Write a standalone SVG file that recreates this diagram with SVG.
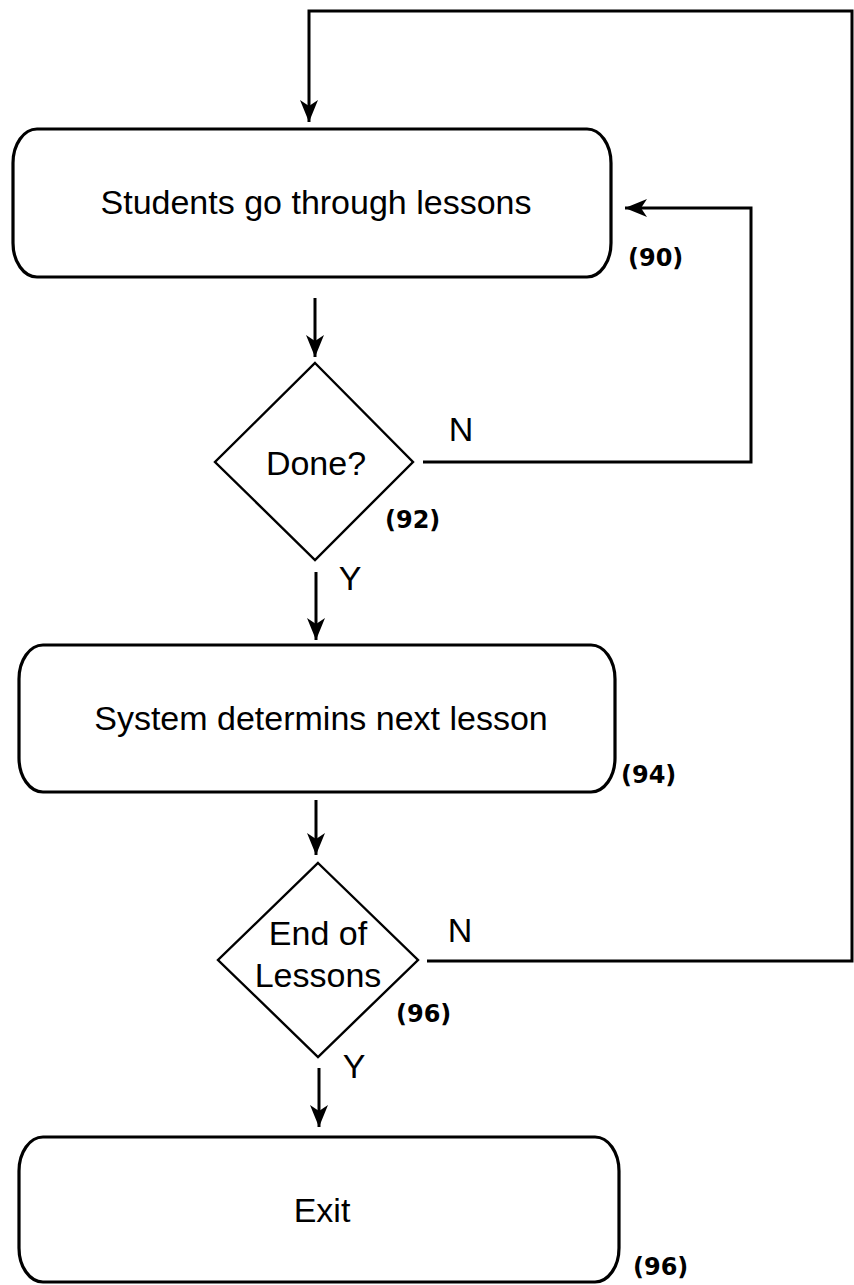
<svg xmlns="http://www.w3.org/2000/svg" width="854" height="1285" viewBox="0 0 854 1285">
<style>
.box{fill:#fff;stroke:#000;stroke-width:3.2}
.dia{fill:#fff;stroke:#000;stroke-width:2.4}
.con{fill:none;stroke:#000;stroke-width:3}
.t{font-family:"Liberation Sans",Arial,sans-serif;font-size:34px;fill:#000;text-anchor:middle}
.ref{font-family:"DejaVu Sans",Verdana,sans-serif;font-weight:bold;font-size:24px;fill:#000}
</style>
<defs>
<marker id="ah" markerUnits="userSpaceOnUse" markerWidth="24" markerHeight="20" refX="22" refY="9" orient="auto" viewBox="0 0 24 20">
<path d="M0,0 L22,9 L0,18 L6,9 z" fill="#000"/>
</marker>
</defs>
<rect width="854" height="1285" fill="#fff"/>
<g id="connectors">
<path class="con" d="M427,961 L852,961 L852,11 L309,11 L309,122" marker-end="url(#ah)"/>
<path class="con" d="M315,298 L315,357" marker-end="url(#ah)"/>
<path class="con" d="M423,462 L751,462 L751,208 L625,208" marker-end="url(#ah)"/>
<path class="con" d="M316,572 L316,640" marker-end="url(#ah)"/>
<path class="con" d="M316,800 L316,855" marker-end="url(#ah)"/>
<path class="con" d="M319,1068 L319,1127" marker-end="url(#ah)"/>
<text class="t" x="461" y="441">N</text>
<text class="t" x="350" y="590">Y</text>
<text class="t" x="460" y="942">N</text>
<text class="t" x="354" y="1078">Y</text>
</g>
<g id="n90">
<rect class="box" x="13" y="129" width="598" height="148" rx="24" ry="34"/>
<text class="t" x="316" y="214">Students go through lessons</text>
<text class="ref" x="628" y="266">(90)</text>
</g>
<g id="n92">
<polygon class="dia" points="315,363 413,462 315,560 215,462"/>
<text class="t" x="316" y="475">Done?</text>
<text class="ref" x="385" y="528">(92)</text>
</g>
<g id="n94">
<rect class="box" x="19" y="645" width="596" height="147" rx="24" ry="34"/>
<text class="t" x="321" y="730">System determins next lesson</text>
<text class="ref" x="621" y="783">(94)</text>
</g>
<g id="n96a">
<polygon class="dia" points="318,863 418,960 318,1057 218,960"/>
<text class="t" x="318" y="945">End of</text>
<text class="t" x="318" y="987">Lessons</text>
<text class="ref" x="396" y="1022">(96)</text>
</g>
<g id="n96b">
<rect class="box" x="19" y="1137" width="600" height="145" rx="24" ry="34"/>
<text class="t" x="322" y="1222">Exit</text>
<text class="ref" x="633" y="1275">(96)</text>
</g>
</svg>
